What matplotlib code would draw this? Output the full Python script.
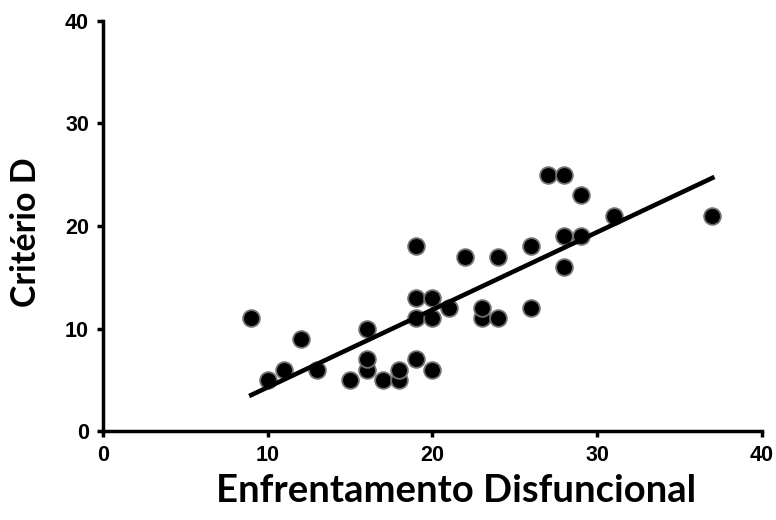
import numpy as np
import matplotlib
matplotlib.use('Agg')
import matplotlib.pyplot as plt

# Data
enfrentamento = [9, 10, 11, 12, 13, 15, 16, 16, 16, 17, 18, 18, 19, 19, 19, 19, 20, 20, 20,
                 21, 22, 23, 23, 24, 24, 26, 26, 27, 28, 28, 28, 29, 29, 31, 37]
criterio_d = [11, 5, 6, 9, 6, 5, 6, 7, 10, 5, 5, 6, 7, 11, 13, 18, 6, 11, 13,
              12, 17, 11, 12, 11, 17, 12, 18, 25, 25, 19, 16, 23, 19, 21, 21]
x_ticks = [0, 10, 20, 30, 40]
y_ticks = [0, 10, 20, 30, 40]

plt.rcParams['font.family'] = ['Liberation Sans', 'DejaVu Sans']
plt.rcParams['font.weight'] = 'bold'

fig = plt.figure(figsize=(7.76, 5.2), dpi=100)
ax = fig.add_axes([0.1327, 0.171, 0.849, 0.789])

ax.scatter(enfrentamento, criterio_d, s=145, c='black', edgecolors='#707070',
           linewidths=1.3, zorder=3)

# Linear trendline
coef = np.polyfit(enfrentamento, criterio_d, 1)
xl = np.array([min(enfrentamento), max(enfrentamento)])
ax.plot(xl, np.polyval(coef, xl), color='black', lw=3.3, zorder=4)

ax.set_xlim(0, 40)
ax.set_ylim(0, 40)
ax.set_xticks(x_ticks)
ax.set_yticks(y_ticks)
ax.set_xticklabels([str(t) for t in x_ticks], fontsize=15.5, fontweight='bold')
ax.set_yticklabels([str(t) for t in y_ticks], fontsize=15.5, fontweight='bold')
for s in ['top', 'right']:
    ax.spines[s].set_visible(False)
for s in ['left', 'bottom']:
    ax.spines[s].set_linewidth(2.5)
ax.tick_params(direction='out', length=4, width=2.5, pad=6)

ax.set_xlabel('Enfrentamento Disfuncional', fontfamily='Lato', fontweight='bold',
              fontsize=27.5)
ax.set_ylabel('Critério D', fontfamily='Lato', fontweight='bold', fontsize=24.5)
ax.xaxis.set_label_coords(0.536, -0.105)
ax.yaxis.set_label_coords(-0.092, 0.485)

fig.savefig('out.png', dpi=100)
